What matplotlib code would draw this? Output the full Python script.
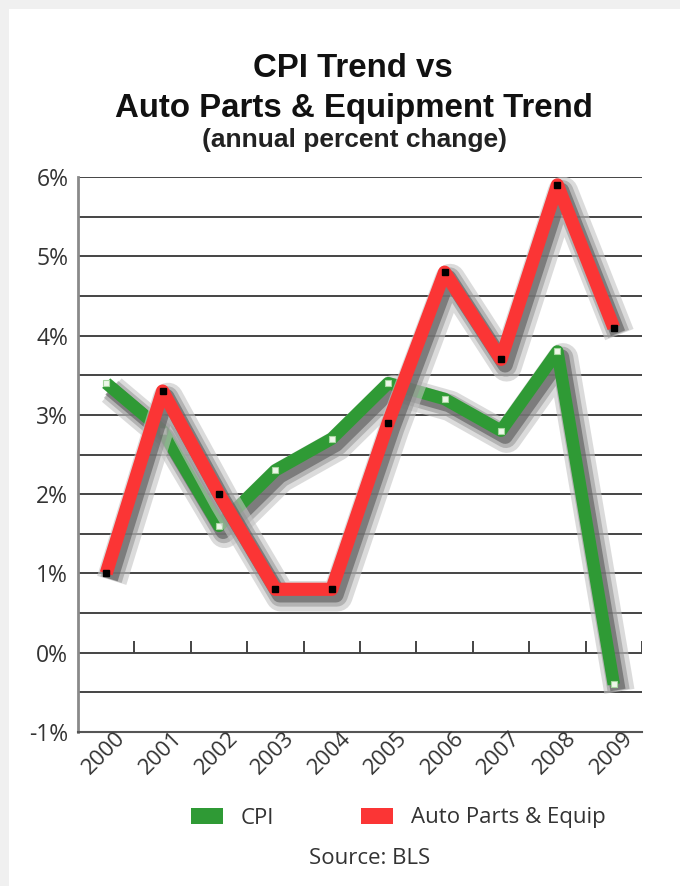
import matplotlib
matplotlib.use("Agg")
import numpy as np
import matplotlib.pyplot as plt
import matplotlib.patheffects as pe
from matplotlib.patches import Rectangle, Patch
from matplotlib.transforms import ScaledTranslation

# --- data -------------------------------------------------------------
years = ["2000", "2001", "2002", "2003", "2004",
         "2005", "2006", "2007", "2008", "2009"]
cpi = [3.4, 2.8, 1.6, 2.3, 2.7, 3.4, 3.2, 2.8, 3.8, -0.4]
auto_parts = [1.0, 3.3, 2.0, 0.8, 0.8, 2.9, 4.8, 3.7, 5.9, 4.1]
y_ticks = [-1, 0, 1, 2, 3, 4, 5, 6]
y_tick_labels = ["-1%", "0%", "1%", "2%", "3%", "4%", "5%", "6%"]

GREEN = "#2f9a35"
RED = "#fb3535"
LABEL_FONT = ["Open Sans", "DejaVu Sans"]
TITLE_FONT = ["Liberation Sans", "DejaVu Sans"]

W, H, DPI = 680, 886, 100
fig = plt.figure(figsize=(W / DPI, H / DPI), dpi=DPI)
fig.patch.set_facecolor("#f0f0f0")
fig.patches.append(Rectangle((9 / W, 0), 1, 1 - 9 / H, transform=fig.transFigure,
                             facecolor="white", edgecolor="none", zorder=-5))

# --- titles -----------------------------------------------------------
fig.text(353 / W, 1 - 77 / H, "CPI Trend vs", ha="center", va="baseline",
         fontsize=23.8, fontweight="bold", family=TITLE_FONT, color="#111111")
fig.text(354 / W, 1 - 117 / H, "Auto Parts & Equipment Trend", ha="center",
         va="baseline", fontsize=23.8, fontweight="bold", family=TITLE_FONT,
         color="#111111")
fig.text(355 / W, 1 - 147 / H, "(annual percent change)", ha="center",
         va="baseline", fontsize=19, fontweight="bold", family=TITLE_FONT,
         color="#222222")

# --- axes -------------------------------------------------------------
ax = fig.add_axes([78 / W, 1 - 732 / H, 564 / W, 555 / H])
ax.set_facecolor("none")
x = np.arange(len(years))
ax.set_xlim(-0.5, len(years) - 0.5)
ax.set_ylim(-1, 6)

# horizontal rules every half percent
ax.set_yticks(y_ticks)
ax.set_yticklabels(y_tick_labels, family=LABEL_FONT, fontsize=16.5, color="#333333")
ax.set_yticks(np.arange(-0.5, 6.0, 1.0), minor=True)
ax.yaxis.grid(True, which="both", color="#444444", linewidth=1.4)
ax.tick_params(axis="y", which="both", length=0, pad=7)
ax.set_axisbelow(True)

ax.set_xticks([])
for side in ("top", "right"):
    ax.spines[side].set_visible(False)
ax.spines["left"].set_color("#8a8a8a")
ax.spines["left"].set_linewidth(2.0)
ax.spines["bottom"].set_color("#555555")
ax.spines["bottom"].set_linewidth(1.5)

# category dividers rising from the zero line
ax.vlines(x + 0.5, 0, 0.15, color="#444444", linewidth=1.4, zorder=1)

# year labels, slanted under the axis
lab_tr = ax.get_xaxis_transform() + ScaledTranslation(16 / DPI, -3 / DPI, fig.dpi_scale_trans)
for xi, yr in zip(x, years):
    ax.text(xi, 0, yr, transform=lab_tr, rotation=45, ha="right", va="center",
            rotation_mode="anchor", family=LABEL_FONT, fontsize=16, color="#333333")

# --- series with soft drop shadows -----------------------------------
shadow = [
    pe.SimpleLineShadow(offset=(4.0, -5.0), shadow_color="#c4c4c4", alpha=0.6, linewidth=22),
    pe.SimpleLineShadow(offset=(3.5, -4.5), shadow_color="#939393", alpha=0.55, linewidth=16),
    pe.SimpleLineShadow(offset=(3.0, -4.0), shadow_color="#585858", alpha=0.6, linewidth=11),
    pe.Normal(),
]

ax.plot(x, cpi, color=GREEN, linewidth=9, solid_joinstyle="round",
        solid_capstyle="butt", path_effects=shadow, zorder=3)
ax.plot(x, cpi, linestyle="none", marker="s", markersize=4,
        markerfacecolor="#eef7ea", markeredgecolor="#a6d69f", markeredgewidth=0.8, zorder=4)

ax.plot(x, auto_parts, color=RED, linewidth=9.5, solid_joinstyle="round",
        solid_capstyle="butt", path_effects=shadow, zorder=5)
ax.plot(x, auto_parts, linestyle="none", marker="s", markersize=4,
        markerfacecolor="black", markeredgecolor="black", zorder=6)

# --- legend and source ------------------------------------------------
handles = [Patch(facecolor=GREEN, edgecolor="none", label="CPI"),
           Patch(facecolor=RED, edgecolor="none", label="Auto Parts & Equip")]
fig.legend(handles=handles, loc="center", bbox_to_anchor=(398 / W, 1 - 818 / H),
           ncol=2, frameon=False, prop={"family": LABEL_FONT, "size": 16},
           handlelength=1.45, handleheight=0.72, handletextpad=0.8,
           columnspacing=3.9, borderpad=0, labelcolor="#333333")

fig.text(370 / W, 1 - 858 / H, "Source: BLS", ha="center", va="center",
         family=LABEL_FONT, fontsize=16, color="#333333")

fig.savefig("out.png", dpi=DPI)
